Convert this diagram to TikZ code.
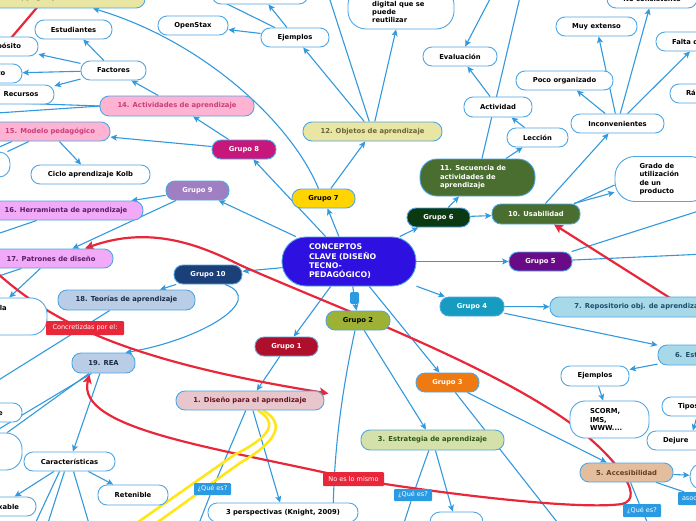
\documentclass[tikz,border=0pt]{standalone}
\usepackage{fontspec}
\setmainfont{DejaVu Sans}
\usetikzlibrary{arrows.meta}
\definecolor{cb}{HTML}{3399DD}
\definecolor{cbord}{HTML}{4FA6E4}
\definecolor{ccen}{HTML}{2E10E0}
\definecolor{g7c}{HTML}{FFD400}
\definecolor{g8c}{HTML}{C8177B}
\definecolor{g9c}{HTML}{A07EC2}
\definecolor{g10c}{HTML}{1B4079}
\definecolor{g1c}{HTML}{AE0F2B}
\definecolor{g2c}{HTML}{9DB234}
\definecolor{g3c}{HTML}{F07A12}
\definecolor{g4c}{HTML}{169BC1}
\definecolor{g5c}{HTML}{690B87}
\definecolor{g6c}{HTML}{0B3A12}
\definecolor{grc}{HTML}{4A6E30}
\definecolor{yelc}{HTML}{E9E5A3}
\definecolor{yelt}{HTML}{66663C}
\definecolor{pkc}{HTML}{FFB3D2}
\definecolor{pkt}{HTML}{C83E7C}
\definecolor{vic}{HTML}{F0AAF8}
\definecolor{vit}{HTML}{5A1E66}
\definecolor{lbc}{HTML}{B9CDE6}
\definecolor{lbt}{HTML}{1C2B46}
\definecolor{t1c}{HTML}{E7C6CC}
\definecolor{t1t}{HTML}{6A1121}
\definecolor{t3c}{HTML}{D5E1AA}
\definecolor{t3t}{HTML}{2E5716}
\definecolor{cyc}{HTML}{A8D9E9}
\definecolor{cyt}{HTML}{1E4E6A}
\definecolor{t5c}{HTML}{E2BE9E}
\definecolor{t5t}{HTML}{6A3E1E}
\definecolor{rdc}{HTML}{E8283A}
\definecolor{lblc}{HTML}{2A9BE2}
\definecolor{cyel}{HTML}{FFE61A}
\newcommand\mmfont{\fontsize{6.8}{8.4}\selectfont\bfseries}
\newcommand\lbfont{\fontsize{6.5}{7.5}\selectfont}
\pgfdeclarelayer{bg}
\pgfsetlayers{bg,main}
\tikzset{
  nb/.style={draw=cbord, line width=0.9pt, rounded corners=9pt, inner sep=0pt, minimum height=19pt, font=\mmfont, align=center},
  wn/.style={nb, fill=white, text=black},
  grp/.style={nb, text=white},
  lab/.style={rounded corners=1pt, inner sep=0pt, text=white, font=\lbfont, minimum height=13pt},
  conn/.style={draw=cb, line width=1.1pt, -{Stealth[length=6.5pt,width=6pt,inset=1.5pt]}},
  pl/.style={draw=cb, line width=1.1pt},
  rl/.style={draw=rdc, line width=2.2pt},
  rtip/.style={-{Stealth[length=9pt,width=9pt,inset=2pt]}},
  ylw/.style={draw=cyel, line width=2.6pt}
}
\begin{document}
\begin{tikzpicture}[x=1pt,y=-1pt]
\useasboundingbox (0,0) rectangle (696,520);
\clip (0,0) rectangle (696,520);

% central
\node[nb, fill=ccen, text=white, minimum width=134pt, minimum height=49pt, rounded corners=24pt, font=\fontsize{7.8}{9.3}\selectfont\bfseries, text width=80pt, align=left] (cen) at (349,261.5) {CONCEPTOS\\CLAVE (DISEÑO\\TECNO-\\PEDAGÓGICO)};
\node[fill=lblc, rounded corners=2pt, minimum width=9pt, minimum height=12pt, inner sep=0pt] (tab) at (354.5,298) {};

% groups
\node[grp, fill=g7c, text=black, minimum width=63pt] (g7) at (323.5,198.5) {Grupo 7};
\node[grp, fill=g8c, minimum width=64pt] (g8) at (244,149.5) {Grupo 8};
\node[grp, fill=g9c, minimum width=63pt] (g9) at (197.5,190.5) {Grupo 9};
\node[grp, fill=g10c, minimum width=68pt] (g10) at (208,274.5) {Grupo 10};
\node[grp, fill=g1c, minimum width=63pt] (g1) at (286.5,346.5) {Grupo 1};
\node[grp, fill=g2c, text=black, minimum width=64pt] (g2) at (358,320.5) {Grupo 2};
\node[grp, fill=g3c, minimum width=63pt] (g3) at (447.5,382.5) {Grupo 3};
\node[grp, fill=g4c, minimum width=64pt] (g4) at (472,306.5) {Grupo 4};
\node[grp, fill=g5c, minimum width=63pt] (g5) at (540.5,261.5) {Grupo 5};
\node[grp, fill=g6c, minimum width=63pt] (g6) at (438.5,217.5) {Grupo 6};

% topics
\node[nb, fill=grc, text=white, minimum width=115pt, minimum height=37pt, rounded corners=17pt, text width=75pt, align=left] (t11) at (477.5,177.5) {11. Secuencia de\\actividades de\\aprendizaje};
\node[nb, fill=grc, text=white, minimum width=88pt, minimum height=20pt] (t10) at (536,214) {10. Usabilidad};
\node[nb, fill=yelc, text=yelt, minimum width=139pt] (t12) at (372.5,131.5) {12. Objetos de aprendizaje};
\node[nb, fill=yelc, text=yelt, minimum width=162pt, minimum height=20pt] (t13) at (64,-2) {ht, copyright y creative commons};
\node[nb, fill=pkc, text=pkt, minimum width=154pt, minimum height=20pt] (t14) at (177,106) {14. Actividades de aprendizaje};
\node[nb, fill=pkc, text=pkt, minimum width=120pt] (t15) at (50,131.5) {15. Modelo pedagógico};
\node[nb, fill=vic, text=vit, minimum width=154pt] (t16) at (66,210.5) {16. Herramienta de aprendizaje};
\node[nb, fill=vic, text=vit, minimum width=124pt] (t17) at (51,258.5) {17. Patrones de diseño};
\node[nb, fill=lbc, text=lbt, minimum width=137pt, minimum height=20pt] (t18) at (126.5,300) {18. Teorías de aprendizaje};
\node[nb, fill=lbc, text=lbt, minimum width=63pt, minimum height=20pt] (t19) at (103.5,363) {19. REA};
\node[nb, fill=t1c, text=t1t, minimum width=148pt] (t1) at (250,400.5) {1. Diseño para el aprendizaje};
\node[nb, fill=t3c, text=t3t, minimum width=143pt, minimum height=20pt] (t3) at (432.5,440) {3. Estrategia de aprendizaje};
\node[nb, fill=cyc, text=cyt, minimum width=180pt, minimum height=20pt] (t7) at (640,307) {7. Repositorio obj. de aprendizaje};
\node[nb, fill=cyc, text=cyt, minimum width=94pt, minimum height=20pt, text width=60pt, align=left] (t6) at (705,355) {6. Estándares};
\node[nb, fill=t5c, text=t5t, minimum width=93pt] (t5) at (626.5,472.5) {5. Accesibilidad};

% white nodes
\node[wn, minimum width=77pt] (estud) at (73.5,29.5) {Estudiantes};
\node[wn, minimum width=71pt] (propo) at (2.5,46.5) {Propósito};
\node[wn, minimum width=68pt] (contx) at (-12,73.5) {Contexto};
\node[wn, minimum width=66pt] (recur) at (21,94.5) {Recursos};
\node[wn, minimum width=65pt] (factor) at (113.5,70.5) {Factores};
\node[wn, minimum width=70pt] (openst) at (193,25.5) {OpenStax};
\node[wn, minimum width=68pt] (ejT) at (295,37.5) {Ejemplos};
\node[wn, minimum width=96pt, minimum height=20pt] (topbox) at (260,-6) {};
\node[wn, minimum width=106pt, minimum height=42pt, rounded corners=18pt] (digbox) at (401,8) {};
\node[font=\mmfont, align=left, anchor=west, inner sep=0pt] (digtxt) at (372,12) {digital que se\\puede\\reutilizar};
\node[wn, minimum width=74pt] (evalu) at (460,56.5) {Evaluación};
\node[wn, minimum width=68pt, minimum height=20pt] (activ) at (498,107) {Actividad};
\node[wn, minimum width=61pt] (lecc) at (537.5,137.5) {Lección};
\node[wn, minimum width=93pt] (incon) at (617.5,123.5) {Inconvenientes};
\node[wn, minimum width=97pt] (poco) at (564.5,80.5) {Poco organizado};
\node[wn, minimum width=81pt] (muyext) at (596.5,26.5) {Muy extenso};
\node[wn, minimum width=90pt] (nocons) at (652,-1.5) {No consistente};
\node[wn, minimum width=88pt, text width=56pt, align=left] (falta) at (700,41.5) {Falta de};
\node[wn, minimum width=70pt, text width=38pt, align=left] (rapid) at (705,93.5) {Rápido};
\node[wn, minimum width=95pt, minimum height=45pt, rounded corners=20pt, text width=46pt, align=left] (grado) at (662.5,179) {Grado de\\utilización\\de un\\producto};
\node[wn, minimum width=119pt] (kolb) at (90.5,174.5) {Ciclo aprendizaje Kolb};
\node[wn, minimum width=60pt, minimum height=25pt, rounded corners=11pt] (lpart) at (-20,164.5) {};
\node[wn, minimum width=116pt, minimum height=37pt, rounded corners=16pt] (labox) at (-11,316.5) {};
\node[font=\mmfont, anchor=east, inner sep=0pt] (latxt) at (7,308) {la};
\node[wn, minimum width=84pt] (reut) at (-20,412.5) {Reutilizable};
\node[wn, minimum width=82pt, minimum height=37pt, rounded corners=16pt] (lbox2) at (-19,451.5) {};
\node[wn, minimum width=91pt] (carac) at (69.5,461.5) {Características};
\node[wn, minimum width=74pt] (remix) at (-1,506.5) {Remixable};
\node[wn, minimum width=70pt, minimum height=20pt] (reten) at (133,495) {Retenible};
\node[wn, minimum width=150pt] (persp) at (283,512.5) {3 perspectivas (Knight, 2009)};
\node[wn, minimum width=68pt, minimum height=20pt] (ejR) at (595,376) {Ejemplos};
\node[wn, minimum width=79pt, minimum height=37pt, rounded corners=15pt, text width=39pt, align=left] (scorm) at (609.5,419.5) {SCORM,\\IMS,\\WWW....};
\node[wn, minimum width=76pt, text width=44pt, align=left] (tipos) at (700,406.5) {Tipos};
\node[wn, minimum width=86pt, text width=54pt, align=left] (dejure) at (690,440.5) {Dejure};
\node[wn, minimum width=60pt, minimum height=27pt, rounded corners=13pt] (rnode) at (720,476.5) {};
\node[wn, minimum width=53pt, minimum height=26pt, rounded corners=10pt] (bnode) at (456.5,525) {};

% labels
\node[lab, fill=rdc, minimum width=78pt, minimum height=14pt] (lconc) at (85,328) {Concretizdas por el:};
\node[lab, fill=rdc, minimum width=61pt, minimum height=14pt] (lno) at (353.5,479) {No es lo mismo};
\node[lab, fill=lblc, minimum width=37pt, minimum height=12pt] (lq1) at (212.5,489) {¿Qué es?};
\node[lab, fill=lblc, minimum width=38pt, minimum height=12pt] (lq2) at (413,495) {¿Qué es?};
\node[lab, fill=lblc, minimum width=38pt] (lq3) at (642,510.5) {¿Qué es?};
\node[lab, fill=lblc, minimum width=52pt, text width=44pt, align=left] (lasoc) at (704,498.5) {asociado};

% free ends
\coordinate (oEjT) at (215,-2);
\coordinate (o12) at (329,-3);
\coordinate (o11) at (520,-3);
\coordinate (oEv) at (491,-3);
\coordinate (o5a) at (705,209);
\coordinate (o5b) at (705,254);
\coordinate (o14a) at (-3,102.5);
\coordinate (o14b) at (-3,113);
\coordinate (o15) at (-3,148);
\coordinate (o16) at (-3,234);
\coordinate (o17) at (-4,277);
\coordinate (o18) at (-3,381);
\coordinate (oc1) at (34,526);
\coordinate (oc2) at (47,526);
\coordinate (oc3) at (90,527);
\coordinate (oq1) at (198,526);
\coordinate (o2) at (333,526);
\coordinate (o3) at (561,527);
\coordinate (oq2) at (403,526);
\coordinate (oq3) at (649,526);
\coordinate (oy1) at (151,527);
\coordinate (oy2) at (131,527);
\coordinate (r1a) at (40,4);
\coordinate (r1b) at (6,44);
\coordinate (r3a) at (-3,273);
\coordinate (r4a) at (708,322);

\begin{pgfonlayer}{bg}
\fill[white] (0,0) rectangle (696,520);
% central to groups
\draw[conn] (cen) -- (g7);
\draw[conn] (cen) -- (g8);
\draw[conn] (cen) -- (g9);
\draw[conn] (cen) -- (g10);
\draw[conn] (cen) -- (g1);
\draw[pl] (cen) -- (tab);
\draw[conn] (tab) -- (g2);
\draw[conn] (cen) -- (g3);
\draw[conn] (cen) -- (g4);
\draw[conn] (cen) -- (g5);
\draw[conn] (cen) -- (g6);
% groups to topics
\draw[conn] (g7) -- (t12);
\draw[conn] ([shift={(-5,0)}]g7.north) .. controls (290,120) and (200,40) .. ([shift={(29,0)}]t13.south);
\draw[conn] (g8) -- (t14);
\draw[conn] (g8) -- (t15);
\draw[conn] (g9) -- (t16);
\draw[conn] (g9) -- (t17);
\draw[conn] (g10) -- (t18);
\draw[conn] ([shift={(17,0)}]g10.south) .. controls (268,300) and (200,340) .. ([shift={(22,0)}]t19.north);
\draw[conn] (g1) -- (t1);
\draw[conn] (g2) -- (t3);
\draw[pl] ([shift={(-3,0)}]g2.south) .. controls (340,400) and (333,460) .. (o2);
\draw[conn] (g3) -- (t5);
\draw[pl] (g3) -- (o3);
\draw[conn] (g4) -- (t7);
\draw[conn] (g4) -- (t6);
\draw[pl] (g5) -- (o5a);
\draw[pl] (g5) -- (o5b);
\draw[conn] (g6) -- (t11);
\draw[conn] (g6) -- (t10);
% group 6 branch
\draw[conn] (t10) -- (incon);
\draw[conn] (t10) -- (grado);
\draw[pl] ([shift={(-6,0)}]t10.north east) -- ([shift={(0,6)}]grado.west);
\draw[conn] (t11) -- (lecc);
\draw[pl] (t11) -- (o11);
\draw[conn] (lecc) -- (activ);
\draw[conn] (activ) -- (evalu);
\draw[conn] (oEv) -- (evalu);
\draw[conn] (incon) -- (poco);
\draw[conn] (incon) -- (muyext);
\draw[conn] (incon) -- (nocons);
\draw[conn] (incon) -- (falta);
% group 7 branch
\draw[conn] (t12) -- (ejT);
\draw[conn] (t12) -- (digbox);
\draw[pl] (t12) -- (o12);
\draw[conn] (ejT) -- (openst);
\draw[conn] (ejT) -- (topbox);
\draw[pl] (ejT) -- (oEjT);
% group 8 branch
\draw[conn] (t14) -- (factor);
\draw[pl] ([shift={(1,0)}]t14.west) -- (o14a);
\draw[pl] ([shift={(1,0)}]t14.west) -- (o14b);
\draw[conn] (factor) -- (estud);
\draw[conn] (factor) -- (propo);
\draw[conn] (factor) -- (contx);
\draw[conn] (factor) -- (recur);
\draw[conn] (t15) -- (kolb);
\draw[pl] (t15) -- (lpart);
\draw[pl] ([shift={(-38,0)}]t15.south) -- (o15);
% group 9 branch
\draw[pl] (t16) -- (o16);
\draw[conn] (t17) -- (labox);
\draw[pl] (t17) -- (o17);
% group 10 branch
\draw[pl] (t18) -- (o18);
\draw[pl] (t19) -- (lbox2);
\draw[pl] ([shift={(-12,0)}]t19.south) -- ([shift={(12,0)}]lbox2.north);
\draw[conn] (t19) -- (carac);
\draw[conn] (carac) -- (remix);
\draw[conn] (carac) -- (reten);
\draw[pl] ([shift={(-10,0)}]carac.south) -- (oc1);
\draw[pl] ([shift={(-5,0)}]carac.south) -- (oc2);
\draw[pl] ([shift={(4,0)}]carac.south) -- (oc3);
% group 1 branch
\draw[conn] (t1) -- (persp);
\draw[pl] (t1) -- (lq1) -- (oq1);
% group 2 branch
\draw[pl] (t3) -- (lq2) -- (oq2);
\draw[conn] (t3) -- (bnode);
% group 4 branch
\draw[conn] (t6) -- (ejR);
\draw[conn] (ejR) -- (scorm);
\draw[conn] (t6) -- (tipos);
\draw[conn] (tipos) -- (dejure);
% group 3 branch
\draw[conn] (t5) -- (rnode);
\draw[pl] (t5) -- (lasoc);
\draw[pl] (t5) -- (lq3) -- (oq3);
% red relations
\draw[rl] (r1a) -- (r1b);
\draw[rl, {Stealth[length=9pt,width=9pt,inset=2pt]}-{Stealth[length=9pt,width=9pt,inset=2pt]}]
  ([shift={(34,-10)}]t17.center) .. controls (150,225) and (200,245) .. (240,265)
  .. controls (330,305) and (480,360) .. (566,420)
  .. controls (612,452) and (648,498) .. (622,504)
  .. controls (580,510) and (450,495) .. (lno.center)
  .. controls (220,448) and (75,430) .. ([shift={(-14,1)}]t19.south);
\draw[rl, rtip] (r3a) .. controls (50,320) and (120,360) .. ([shift={(4,-7)}]t1.east);
\draw[rl, rtip] (r4a) -- ([shift={(18,0)}]t10.south);
% yellow highlight
\draw[ylw] ([shift={(13,0)}]t1.south) .. controls (287,424) and (276,442) .. (240,463) -- (oy1);
\draw[ylw] ([shift={(8,0)}]t1.south) .. controls (280,424) and (268,438) .. (234,455) -- (oy2);
\end{pgfonlayer}
\end{tikzpicture}
\end{document}
